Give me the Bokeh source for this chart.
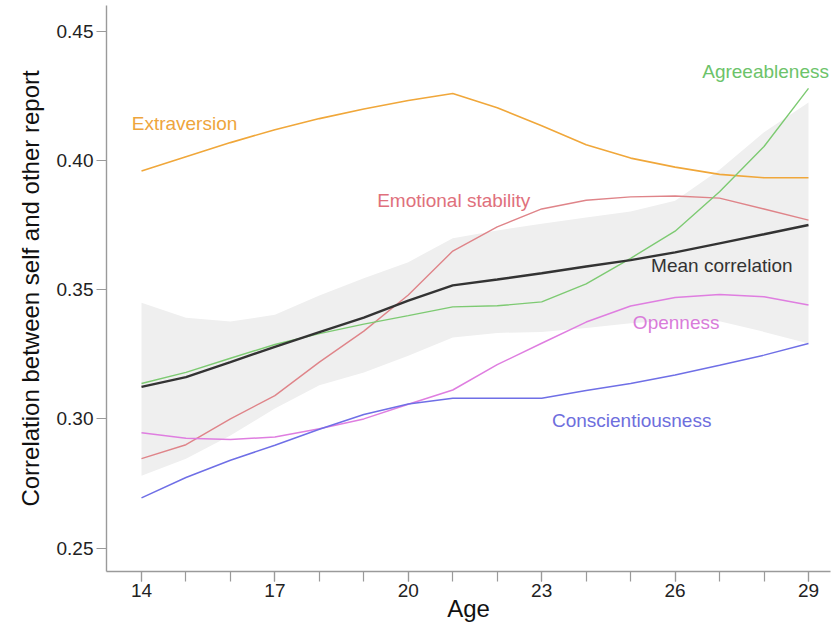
from bokeh.plotting import figure
from bokeh.models import Range1d, FixedTicker, Label, PrintfTickFormatter
from bokeh.embed import file_html
from bokeh.resources import INLINE

# ---- data ----
ages = [14, 15, 16, 17, 18, 19, 20, 21, 22, 23, 24, 25, 26, 27, 28, 29]

extraversion = [0.396, 0.4015, 0.407, 0.412, 0.4163, 0.420, 0.4233, 0.426,
                0.4205, 0.4135, 0.4062, 0.401, 0.3975, 0.3947, 0.3934, 0.3934]
emotional_stability = [0.2846, 0.290, 0.300, 0.309, 0.322, 0.334, 0.348, 0.365,
                       0.3744, 0.3813, 0.3847, 0.386, 0.3863, 0.3855, 0.3813, 0.377]
agreeableness = [0.3137, 0.318, 0.3235, 0.3288, 0.333, 0.3367, 0.340, 0.3434,
                 0.3438, 0.3453, 0.3523, 0.3622, 0.3727, 0.388, 0.4055, 0.428]
mean_correlation = [0.3124, 0.3162, 0.322, 0.3279, 0.3336, 0.3392, 0.3458, 0.3517,
                    0.354, 0.3564, 0.359, 0.3615, 0.3645, 0.368, 0.3715, 0.3751]
openness = [0.2946, 0.2925, 0.292, 0.293, 0.2962, 0.300, 0.3057, 0.3112,
            0.321, 0.3293, 0.3375, 0.3437, 0.347, 0.3482, 0.3473, 0.3441]
conscientiousness = [0.2694, 0.2773, 0.284, 0.2898, 0.296, 0.3017, 0.3058, 0.308,
                     0.308, 0.308, 0.311, 0.3137, 0.317, 0.3208, 0.3247, 0.3292]
band_upper = [0.345, 0.3392, 0.3377, 0.3403, 0.3478, 0.3545, 0.3607, 0.370,
              0.373, 0.3756, 0.378, 0.3803, 0.3845, 0.3965, 0.411, 0.4225]
band_lower = [0.278, 0.2846, 0.2936, 0.304, 0.313, 0.318, 0.3245, 0.3315,
              0.3333, 0.3337, 0.3352, 0.337, 0.3382, 0.3378, 0.3337, 0.3292]

x_major_ticks = [14, 17, 20, 23, 26, 29]
y_ticks = [0.25, 0.30, 0.35, 0.40, 0.45]

FONT = "Liberation Sans"

p = figure(width=840, height=627,
           x_range=Range1d(13.213, 29.495), y_range=Range1d(0.2409, 0.4601),
           output_backend="svg", toolbar_location=None,
           min_border_left=106, min_border_right=10, min_border_top=5, min_border_bottom=56)

p.outline_line_color = None
p.xgrid.visible = False
p.ygrid.visible = False
p.background_fill_color = "white"
p.border_fill_color = "white"

# confidence band
p.varea(x=ages, y1=band_lower, y2=band_upper, fill_color="#efefef", fill_alpha=1.0)

# trait lines
p.line(ages, extraversion, line_color="#f0a73a", line_width=1.6)
p.line(ages, emotional_stability, line_color="#df8489", line_width=1.4)
p.line(ages, agreeableness, line_color="#7dca72", line_width=1.4)
p.line(ages, openness, line_color="#df7ee0", line_width=1.5)
p.line(ages, conscientiousness, line_color="#6f6fe6", line_width=1.5)
p.line(ages, mean_correlation, line_color="#333333", line_width=2.4)

# labels
labels = [
    ("Extraversion", 13.78, 0.4143, "#eea53c"),
    ("Emotional stability", 19.30, 0.3844, "#e0707c"),
    ("Agreeableness", 26.61, 0.4345, "#6cc36a"),
    ("Mean correlation", 25.46, 0.3596, "#333333"),
    ("Openness", 25.05, 0.3372, "#d97cda"),
    ("Conscientiousness", 23.23, 0.2992, "#6e6edd"),
]
for txt, lx, ly, col in labels:
    p.add_layout(Label(x=lx, y=ly, text=txt, text_color=col, text_font=FONT,
                       text_font_size="19px", text_align="left", text_baseline="middle"))

# x axis
p.xaxis.ticker = FixedTicker(ticks=x_major_ticks, minor_ticks=ages)
p.xaxis.major_tick_out = 10
p.xaxis.major_tick_in = 0
p.xaxis.minor_tick_out = 10
p.xaxis.minor_tick_in = 0
p.xaxis.major_label_standoff = 2
p.xaxis.axis_label = "Age"
p.xaxis.axis_label_standoff = -5

# y axis
p.yaxis.ticker = FixedTicker(ticks=y_ticks, minor_ticks=[])
p.yaxis.formatter = PrintfTickFormatter(format="%.2f")
p.yaxis.major_tick_out = 10
p.yaxis.major_tick_in = 0
p.yaxis.major_label_standoff = 3
p.yaxis.axis_label = "Correlation between self and other report"
p.yaxis.axis_label_standoff = 10

for ax in (p.xaxis[0], p.yaxis[0]):
    ax.axis_line_color = "#9a9a9a"
    ax.axis_line_width = 1.4
    ax.major_tick_line_color = "#9a9a9a"
    ax.minor_tick_line_color = "#9a9a9a"
    ax.major_tick_line_width = 1.2
    ax.minor_tick_line_width = 1.2
    ax.major_label_text_font = FONT
    ax.major_label_text_font_size = "19px"
    ax.major_label_text_color = "#222222"
    ax.axis_label_text_font = FONT
    ax.axis_label_text_font_size = "24px"
    ax.axis_label_text_font_style = "normal"
    ax.axis_label_text_color = "#111111"

open("out.html", "w").write(file_html(p, INLINE))
